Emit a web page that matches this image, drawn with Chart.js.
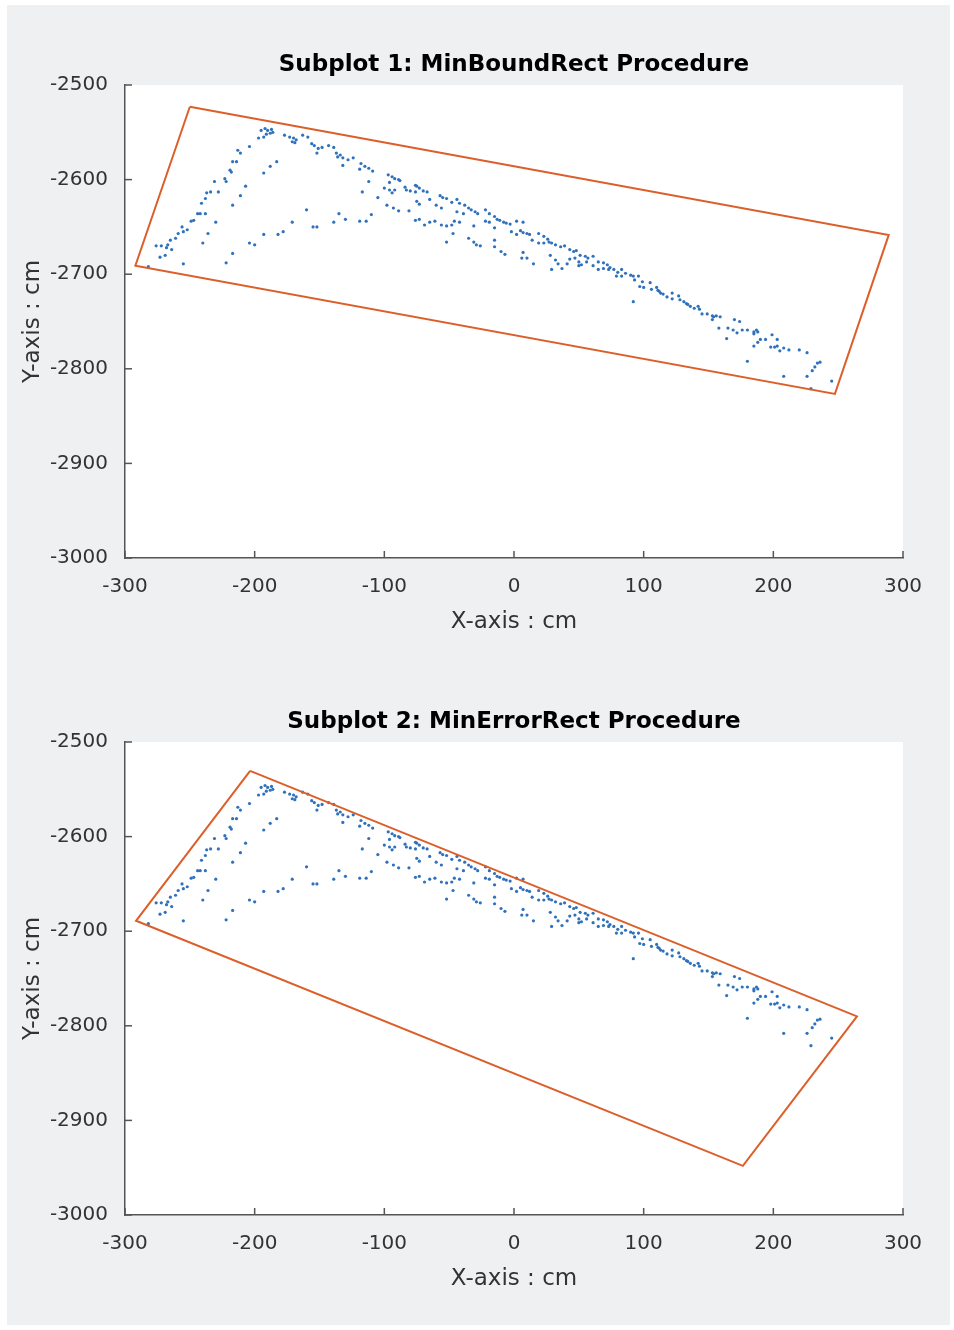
<!DOCTYPE html>
<html>
<head>
<meta charset="utf-8">
<script src="https://cdn.jsdelivr.net/npm/chart.js@4.4.1/dist/chart.umd.min.js"></script>
<style>
  body { margin: 0; background: #ffffff; }
  #figure { position: absolute; left: 7px; top: 5px; width: 943px; height: 1320px; background: #eef0f2; }
  .box { position: absolute; left: 7px; width: 943px; height: 660px; }
</style>
</head>
<body>
<div id="figure"></div>
<div class="box" style="top:5px"><canvas id="plot1"></canvas></div>
<div class="box" style="top:662px"><canvas id="plot2"></canvas></div>
<script>
// tick values shared by both subplots
const xTicks = [-300, -200, -100, 0, 100, 200, 300];
const yTicks = [-3000, -2900, -2800, -2700, -2600, -2500];

// measured points [x, y] in cm, grouped by region of the cloud
const ptsLeftArm = [
  [-195,-2548],[-192,-2546],[-190,-2548],[-187,-2547],[-186,-2550],[-191,-2552],[-188,-2551],[-193,-2555],[-197,-2556],[-177,-2553],
  [-173,-2555],[-170,-2556],[-168,-2558],[-171,-2560],[-169,-2561],[-163,-2553],[-159,-2555],[-204,-2565],[-213,-2569],[-211,-2572],
  [-217,-2581],[-214,-2581],[-219,-2590],[-218,-2592],[-223,-2599],[-222,-2602],[-231,-2602],[-228,-2613],[-234,-2613],[-237,-2614],
  [-238,-2620],[-241,-2625],[-242,-2636],[-244,-2636],[-238,-2636],[-247,-2643],[-249,-2644],[-252,-2653],[-256,-2650],[-255,-2655],
  [-259,-2657],[-261,-2662],[-265,-2664],[-267,-2669],[-268,-2672],[-264,-2674],[-272,-2670],[-276,-2670],[-269,-2680],[-273,-2682],
  [-282,-2692],[-255,-2689],[-222,-2688],[-217,-2678],[-240,-2667],[-236,-2657],[-230,-2645],[-217,-2627],[-211,-2617],[-207,-2607],
  [-193,-2593],[-188,-2586],[-183,-2581],[-160,-2632],[-171,-2645],[-178,-2655],[-182,-2658],[-193,-2658],[-204,-2667],[-200,-2669]
];
const ptsUpperMid = [
  [-156,-2562],[-154,-2564],[-151,-2567],[-148,-2566],[-152,-2572],[-143,-2564],[-139,-2566],[-137,-2572],[-134,-2574],[-136,-2576],
  [-132,-2577],[-128,-2579],[-124,-2577],[-132,-2585],[-118,-2583],[-115,-2586],[-112,-2588],[-109,-2591],[-119,-2589],[-112,-2602],
  [-117,-2613],[-97,-2595],[-94,-2597],[-92,-2599],[-89,-2600],[-88,-2601],[-96,-2603],[-100,-2609],[-96,-2611],[-92,-2611],
  [-94,-2614],[-84,-2608],[-83,-2611],[-80,-2612],[-76,-2606],[-75,-2607],[-73,-2609],[-70,-2612],[-67,-2613],[-76,-2613],
  [-105,-2619],[-75,-2623],[-73,-2626],[-65,-2621],[-60,-2627],[-57,-2617],[-55,-2619],[-52,-2620],[-48,-2624],[-44,-2621],
  [-42,-2625],[-56,-2630],[-38,-2627],[-35,-2630],[-33,-2632],[-30,-2634],[-39,-2636],[-44,-2634],[-98,-2627],[-93,-2630],
  [-89,-2633],[-81,-2633],[-135,-2636],[-130,-2642],[-139,-2645],[-155,-2650],[-152,-2650],[-119,-2644],[-114,-2644],[-110,-2637],
  [-76,-2643],[-73,-2642],[-69,-2648],[-65,-2645],[-61,-2644],[-56,-2648],[-52,-2649],[-48,-2648],[-46,-2644],[-42,-2645],
  [-47,-2657],[-52,-2666],[-35,-2662],[-31,-2666],[-29,-2669],[-31,-2649]
];
const ptsCentre = [
  [-28,-2636],[-22,-2632],[-19,-2636],[-15,-2639],[-13,-2642],[-11,-2643],[-8,-2645],[-6,-2646],[-3,-2647],[2,-2644],
  [7,-2645],[-22,-2644],[-19,-2645],[-15,-2651],[-2,-2655],[2,-2658],[5,-2654],[7,-2656],[10,-2657],[12,-2658],
  [19,-2657],[23,-2660],[26,-2663],[27,-2666],[29,-2667],[32,-2669],[36,-2671],[39,-2670],[43,-2674],[46,-2676],
  [48,-2675],[51,-2680],[55,-2681],[57,-2683],[61,-2681],[65,-2687],[69,-2688],[72,-2690],[74,-2693],[77,-2695],
  [80,-2698],[83,-2695],[86,-2699],[90,-2701],[92,-2702],[93,-2706],[-26,-2670],[-15,-2664],[-15,-2671],[-10,-2676],
  [-7,-2679],[14,-2664],[19,-2667],[23,-2667],[7,-2677],[6,-2683],[10,-2683],[15,-2689],[28,-2680],[32,-2685],
  [34,-2689],[29,-2695],[37,-2694],[41,-2689],[43,-2684],[47,-2683],[50,-2687],[52,-2690],[50,-2691],[56,-2687],
  [61,-2691],[65,-2695],[69,-2694],[73,-2695],[79,-2702],[83,-2702]
];
const ptsRightTail = [
  [96,-2702],[99,-2708],[97,-2713],[100,-2714],[105,-2709],[106,-2716],[110,-2714],[111,-2717],[112,-2718],[113,-2720],
  [115,-2721],[118,-2724],[122,-2720],[122,-2726],[127,-2723],[128,-2727],[131,-2729],[133,-2731],[134,-2732],[136,-2734],
  [139,-2736],[142,-2734],[143,-2737],[145,-2742],[149,-2742],[153,-2744],[154,-2745],[156,-2744],[159,-2745],[153,-2748],
  [92,-2729],[158,-2757],[164,-2768],[165,-2757],[169,-2759],[170,-2748],[174,-2750],[176,-2759],[180,-2759],[185,-2761],
  [187,-2759],[172,-2762],[185,-2763],[188,-2761],[185,-2776],[188,-2772],[190,-2769],[194,-2769],[199,-2764],[203,-2769],
  [198,-2777],[201,-2777],[203,-2776],[205,-2781],[208,-2778],[212,-2780],[220,-2780],[226,-2783],[180,-2792],[208,-2808],
  [226,-2808],[229,-2821],[230,-2802],[232,-2798],[234,-2794],[236,-2793],[245,-2813]
];

// rectangle corners (closed loop)
const rect1X = [-250, 289, 247.5, -292, -250];
const rect1Y = [-2523, -2658.5, -2826.5, -2691, -2523];
const rect2X = [-203.5, 264.5, 176.5, -291.5, -203.5];
const rect2Y = [-2530.5, -2790, -2948, -2689, -2530.5];

const axisColor = '#555555';
const textColor = '#333333';
const pointColor = '#2f72bb';
const rectColor = '#dc5f2a';

Chart.defaults.font.family = '"DejaVu Sans", "Liberation Sans", sans-serif';

const allPoints = ptsLeftArm.concat(ptsUpperMid, ptsCentre, ptsRightTail).map(([x, y]) => ({ x, y }));

// white plot area and inward tick marks, like the original figure
const plotDecor = {
    id: 'plotDecor',
    beforeDraw(chart) {
        const { ctx, chartArea: a } = chart;
        ctx.save();
        ctx.fillStyle = '#ffffff';
        ctx.fillRect(a.left, a.top, a.right - a.left, a.bottom - a.top);
        ctx.restore();
    },
    afterDraw(chart) {
        const { ctx, chartArea: a, scales: { x, y } } = chart;
        ctx.save();
        ctx.strokeStyle = axisColor;
        ctx.lineWidth = 1.5;
        xTicks.forEach(v => {
            const px = x.getPixelForValue(v);
            ctx.beginPath();
            ctx.moveTo(px, a.bottom);
            ctx.lineTo(px, a.bottom - 7);
            ctx.stroke();
        });
        yTicks.forEach(v => {
            const py = y.getPixelForValue(v);
            ctx.beginPath();
            ctx.moveTo(a.left, py);
            ctx.lineTo(a.left + 7, py);
            ctx.stroke();
        });
        ctx.restore();
    }
};

function crearSubplot(id, titulo, rectX, rectY) {
    const ctx = document.getElementById(id).getContext('2d');
    return new Chart(ctx, {
        type: 'scatter',
        data: {
            datasets: [
                {
                    data: rectX.map((x, i) => ({ x, y: rectY[i] })),
                    showLine: true,
                    borderColor: rectColor,
                    borderWidth: 2,
                    pointRadius: 0,
                    tension: 0,
                    fill: false
                },
                {
                    data: allPoints,
                    backgroundColor: pointColor,
                    borderWidth: 0,
                    pointRadius: 1.6
                }
            ]
        },
        options: {
            responsive: true,
            maintainAspectRatio: false,
            animation: false,
            layout: { padding: { left: 0, right: 47, top: 0, bottom: 0 } },
            plugins: {
                legend: { display: false },
                tooltip: { enabled: false },
                title: {
                    display: true,
                    fullSize: false, // centre over the plot area
                    text: titulo,
                    color: '#000000',
                    font: { size: 23, weight: 'bold' },
                    padding: { top: 46, bottom: 6.4 }
                }
            },
            scales: {
                x: {
                    min: -300,
                    max: 300,
                    afterBuildTicks: s => { s.ticks = xTicks.map(v => ({ value: v })); },
                    afterFit: s => { s.height = 107; },
                    grid: { display: false },
                    border: { display: true, color: axisColor, width: 1.5 },
                    ticks: { color: textColor, font: { size: 20 }, padding: 9, maxRotation: 0, callback: v => String(v) },
                    title: {
                        display: true,
                        text: 'X-axis : cm',
                        color: textColor,
                        font: { size: 23 },
                        padding: { top: 0, bottom: 29 }
                    }
                },
                y: {
                    min: -3000,
                    max: -2500,
                    afterBuildTicks: s => { s.ticks = yTicks.map(v => ({ value: v })); },
                    afterFit: s => { s.width = 118; },
                    grid: { display: false },
                    border: { display: true, color: axisColor, width: 1.5 },
                    ticks: { color: textColor, font: { size: 20 }, padding: 9, callback: v => String(v) },
                    title: {
                        display: true,
                        text: 'Y-axis : cm',
                        color: textColor,
                        font: { size: 23 },
                        padding: { top: 12, bottom: 0 }
                    }
                }
            }
        },
        plugins: [plotDecor]
    });
}

crearSubplot('plot1', 'Subplot 1: MinBoundRect Procedure', rect1X, rect1Y);
crearSubplot('plot2', 'Subplot 2: MinErrorRect Procedure', rect2X, rect2Y);
</script>
</body>
</html>
